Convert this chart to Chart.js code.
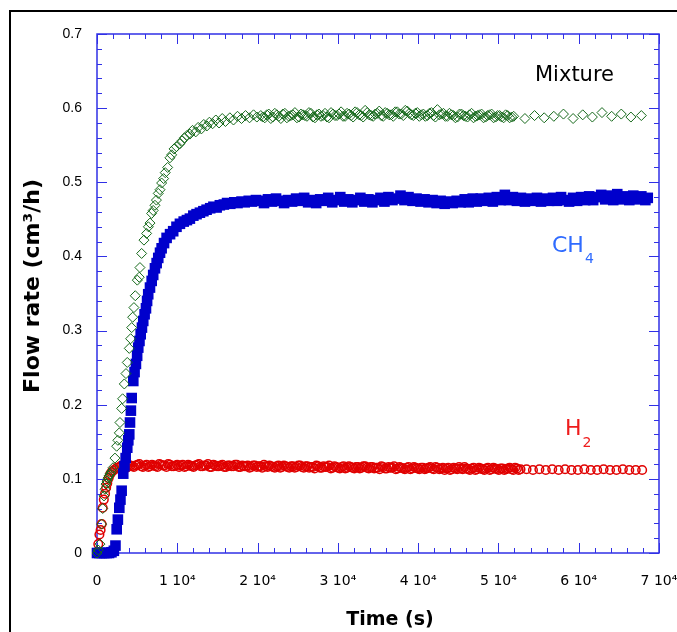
<!DOCTYPE html>
<html>
<head>
<meta charset="utf-8">
<script src="https://cdn.jsdelivr.net/npm/chart.js@4.4.1/dist/chart.umd.min.js"></script>
<style>
  html, body { margin: 0; padding: 0; background: #fff; }
  #wrap { position: relative; width: 677px; height: 632px; }
</style>
</head>
<body>
<div id="wrap"><canvas id="flowChart" width="677" height="632"></canvas></div>
<script>
// Axis ticks
const xTickValues = [0, 10000, 20000, 30000, 40000, 50000, 60000, 70000];
const xTickLabels = ['0', '1 10⁴', '2 10⁴', '3 10⁴', '4 10⁴', '5 10⁴', '6 10⁴', '7 10⁴'];
const yTickValues = [0, 0.1, 0.2, 0.3, 0.4, 0.5, 0.6, 0.7];
const yTickLabels = ['0', '0.1', '0.2', '0.3', '0.4', '0.5', '0.6', '0.7'];

// Mixture (time s, flow cm3/h)
const mixtureTime = [
    0, 150, 370, 580, 710, 870, 1000, 1120, 1250, 1370, 1500, 1650, 1830, 2000, 2240, 2450, 2600, 2780, 2860, 3070,
    3190, 3400, 3610, 3770, 4020, 4190, 4320, 4440, 4600, 4770, 5020, 5260, 5350, 5560, 5850, 6180, 6400, 6600, 6800, 7000,
    7220, 7400, 7630, 7850, 8050, 8300, 8500, 8800, 9080, 9300, 9600, 9900, 10330, 10600, 10900, 11200, 11570, 11900, 12300, 12600,
    13000, 13300, 13690, 14000, 14400, 14800, 15200, 15600, 16000, 16550, 17000, 17500, 18000, 18500, 19000, 19500, 19910,
    20400, 20900, 21400, 21900, 22400, 22900, 23400, 23900, 24400, 24900, 25400, 25900, 26400, 26900, 27400, 27900, 28400, 28900,
    29400, 29900, 30400, 30900, 31400, 31900, 32400, 32900, 33400, 33900, 34400, 34900, 35400, 35900, 36400, 36900, 37400, 37900,
    38400, 38900, 39400, 39900, 40400, 40900, 41400, 41900, 42400, 42900, 43400, 43900, 44400, 44900, 45400, 45900, 46400, 46900,
    47400, 47900, 48400, 48900, 49400, 49900, 50400, 50900, 51400, 51900,
    53300, 54500, 55700, 56900, 58100, 59300, 60500, 61700, 62900, 64100, 65300, 66500, 67800,
    20650, 21150, 21650, 22150, 22650, 23150, 23650, 24150, 24650, 25150, 25650, 26150, 26650, 27150, 27650, 28150, 28650, 29150, 29650, 30150,
    30650, 31150, 31650, 32150, 32650, 33150, 33650, 34150, 34650, 35150, 35650, 36150, 36650, 37150, 37650, 38150, 38650, 39150, 39650, 40150,
    40650, 41150, 41650, 42150, 42650, 43150, 43650, 44150, 44650, 45150, 45650, 46150, 46650, 47150, 47650, 48150, 48650, 49150, 49650, 50150,
    50650, 51150, 51650
];
const mixtureFlow = [
    0, 0.004, 0.012, 0.039, 0.060, 0.077, 0.086, 0.093, 0.097, 0.101, 0.104, 0.107, 0.110, 0.115, 0.128, 0.144, 0.152, 0.162, 0.176, 0.195,
    0.208, 0.228, 0.242, 0.257, 0.276, 0.289, 0.304, 0.318, 0.331, 0.347, 0.368, 0.372, 0.385, 0.404, 0.422, 0.431, 0.440, 0.445, 0.458, 0.462,
    0.469, 0.476, 0.485, 0.490, 0.499, 0.505, 0.513, 0.520, 0.533, 0.537, 0.545, 0.548, 0.552, 0.556, 0.560, 0.563, 0.565, 0.570, 0.568, 0.574,
    0.572, 0.578, 0.576, 0.581, 0.579, 0.584, 0.580, 0.586, 0.582, 0.587, 0.584, 0.589, 0.586, 0.590, 0.587, 0.591, 0.588,
    0.590, 0.587, 0.592, 0.588, 0.591, 0.586, 0.593, 0.589, 0.591, 0.587, 0.592, 0.590, 0.594, 0.588, 0.591, 0.589, 0.593, 0.587,
    0.592, 0.590, 0.595, 0.589, 0.592, 0.588, 0.594, 0.590, 0.597, 0.591, 0.589, 0.593, 0.590, 0.594, 0.591, 0.589, 0.595, 0.592,
    0.597, 0.593, 0.590, 0.594, 0.591, 0.589, 0.593, 0.590, 0.598, 0.592, 0.589, 0.593, 0.590, 0.588, 0.592, 0.589, 0.591, 0.587,
    0.590, 0.592, 0.588, 0.591, 0.587, 0.590, 0.588, 0.591, 0.587, 0.589,
    0.586, 0.590, 0.587, 0.589, 0.592, 0.586, 0.591, 0.588, 0.594, 0.589, 0.592, 0.588, 0.590,
    0.588, 0.591, 0.586, 0.593, 0.589, 0.592, 0.587, 0.590, 0.594, 0.588, 0.591, 0.589, 0.593, 0.587, 0.592, 0.590, 0.588, 0.594, 0.590, 0.592,
    0.589, 0.593, 0.590, 0.595, 0.591, 0.588, 0.594, 0.590, 0.592, 0.596, 0.589, 0.593, 0.591, 0.595, 0.592, 0.590, 0.596, 0.591, 0.593, 0.589,
    0.592, 0.590, 0.594, 0.588, 0.591, 0.593, 0.589, 0.591, 0.587, 0.592, 0.590, 0.588, 0.593, 0.589, 0.591, 0.587, 0.590, 0.592, 0.588, 0.590,
    0.587, 0.590, 0.588
];

// CH4
const ch4Time = [
    0, 300, 600, 900, 1200, 1500, 1800, 2100, 2300, 2450, 2600, 2780, 2920, 3070, 3270, 3420, 3570, 3770, 3900, 4020,
    4110, 4220, 4320, 4520, 4680, 4850, 5000, 5140, 5290, 5440, 5600, 5760, 5930, 6100, 6240, 6380, 6600, 6810, 7000, 7220,
    7430, 7630, 7850, 8050, 8350, 8670, 9100, 9490, 9900, 10330, 10800, 11200, 11570, 12000, 12400, 12820, 13250, 13650, 14100, 14500,
    14900, 15300, 15800, 16200, 16600, 17100, 17500, 18000, 18400, 18900, 19300, 19800,
    20300, 20800, 21300, 21800, 22300, 22800, 23300, 23800, 24300, 24800, 25300, 25800, 26300, 26800, 27300, 27800, 28300, 28800,
    29300, 29800, 30300, 30800, 31300, 31800, 32300, 32800, 33300, 33800, 34300, 34800, 35300, 35800, 36300, 36800, 37300, 37800,
    38300, 38800, 39300, 39800, 40300, 40800, 41300, 41800, 42300, 42800, 43300, 43800, 44300, 44800, 45300, 45800, 46300, 46800,
    47300, 47800, 48300, 48800, 49300, 49800, 50300, 50800, 51300, 51800, 52300, 52800, 53300, 53800, 54300, 54800, 55300, 55800,
    56300, 56800, 57300, 57800, 58300, 58800, 59300, 59800, 60300, 60800, 61300, 61800, 62300, 62800, 63300, 63800, 64300, 64800,
    65300, 65800, 66300, 66800, 67300, 67800, 68300, 68600
];
const ch4Flow = [
    0, 0, 0, 0, 0, 0, 0.001, 0.003, 0.010, 0.032, 0.045, 0.061, 0.072, 0.084, 0.107, 0.117, 0.128, 0.142, 0.152, 0.160,
    0.176, 0.192, 0.209, 0.232, 0.244, 0.255, 0.266, 0.277, 0.286, 0.295, 0.304, 0.313, 0.322, 0.330, 0.340, 0.349, 0.358, 0.367, 0.375, 0.384,
    0.391, 0.398, 0.405, 0.411, 0.418, 0.425, 0.430, 0.434, 0.440, 0.444, 0.447, 0.449, 0.451, 0.455, 0.457, 0.459, 0.461, 0.463, 0.465, 0.467,
    0.466, 0.469, 0.470, 0.472, 0.471, 0.473, 0.472, 0.474, 0.473, 0.475, 0.474, 0.476,
    0.475, 0.472, 0.477, 0.474, 0.478, 0.475, 0.472, 0.476, 0.474, 0.478, 0.475, 0.479, 0.473, 0.476, 0.472, 0.477, 0.475, 0.479,
    0.473, 0.476, 0.480, 0.474, 0.477, 0.473, 0.476, 0.479, 0.474, 0.477, 0.473, 0.476, 0.479, 0.474, 0.480, 0.476, 0.478, 0.482,
    0.476, 0.480, 0.475, 0.478, 0.474, 0.477, 0.473, 0.476, 0.472, 0.475, 0.471, 0.474, 0.472, 0.475, 0.473, 0.477, 0.473, 0.478,
    0.474, 0.478, 0.475, 0.479, 0.474, 0.480, 0.476, 0.483, 0.476, 0.480, 0.475, 0.479, 0.474, 0.478, 0.475, 0.479, 0.474, 0.478,
    0.475, 0.479, 0.475, 0.480, 0.476, 0.474, 0.479, 0.475, 0.480, 0.476, 0.481, 0.476, 0.480, 0.483, 0.477, 0.482, 0.476, 0.484,
    0.477, 0.481, 0.476, 0.482, 0.477, 0.481, 0.476, 0.479
];

// H2
const h2Time = [
    0, 160, 300, 450, 580, 710, 850, 1000, 1140, 1280, 1450, 1620, 1800, 2000, 2240, 2500,
    2800, 3250, 3700, 4150, 4600, 5050, 5500, 5950, 6400, 6850, 7300, 7750, 8200, 8650, 9100, 9550, 10000, 10450, 10900, 11350,
    11800, 12250, 12700, 13150, 13600, 14050, 14500, 14950, 15400, 15850, 16300, 16750, 17200, 17650, 18100, 18550, 19000, 19450,
    19900, 20350, 20800, 21250, 21700, 22150, 22600, 23050, 23500, 23950, 24400, 24850, 25300, 25750, 26200, 26650, 27100, 27550,
    28000, 28450, 28900, 29350, 29800, 30250, 30700, 31150, 31600, 32050, 32500, 32950, 33400, 33850, 34300, 34750, 35200, 35650,
    36100, 36550, 37000, 37450, 37900, 38350, 38800, 39250, 39700, 40150, 40600, 41050, 41500, 41950, 42400, 42850, 43300, 43750,
    44200, 44650, 45100, 45550, 46000, 46450, 46900, 47350, 47800, 48250, 48700, 49150, 49600, 50050, 50500, 50950, 51400, 51850,
    52300, 52750,
    53500, 54300, 55100, 55900, 56700, 57500, 58300, 59100, 59900, 60700, 61500, 62300, 63100, 63900, 64700, 65500, 66300, 67100, 67900,
    3025, 3475, 3925, 4375, 4825, 5275, 5725, 6175, 6625, 7075, 7525, 7975, 8425, 8875, 9325, 9775, 10225, 10675, 11125, 11575,
    12025, 12475, 12925, 13375, 13825, 14275, 14725, 15175, 15625, 16075, 16525, 16975, 17425, 17875, 18325, 18775, 19225, 19675, 20125, 20575,
    21025, 21475, 21925, 22375, 22825, 23275, 23725, 24175, 24625, 25075, 25525, 25975, 26425, 26875, 27325, 27775, 28225, 28675, 29125, 29575,
    30025, 30475, 30925, 31375, 31825, 32275, 32725, 33175, 33625, 34075, 34525, 34975, 35425, 35875, 36325, 36775, 37225, 37675, 38125, 38575,
    39025, 39475, 39925, 40375, 40825, 41275, 41725, 42175, 42625, 43075, 43525, 43975, 44425, 44875, 45325, 45775, 46225, 46675, 47125, 47575,
    48025, 48475, 48925, 49375, 49825, 50275, 50725, 51175, 51625, 52075, 52525
];
const h2Flow = [
    0, 0.012, 0.025, 0.031, 0.039, 0.061, 0.072, 0.080, 0.088, 0.094, 0.101, 0.106, 0.109, 0.111, 0.113, 0.115,
    0.116, 0.117, 0.115, 0.118, 0.116, 0.119, 0.117, 0.118, 0.116, 0.119, 0.117, 0.120, 0.118, 0.116, 0.119, 0.117, 0.119, 0.118, 0.116, 0.119,
    0.117, 0.118, 0.120, 0.117, 0.118, 0.116, 0.119, 0.117, 0.118, 0.116, 0.118, 0.117, 0.119, 0.116, 0.118, 0.117, 0.115, 0.118,
    0.116, 0.117, 0.119, 0.116, 0.117, 0.115, 0.118, 0.116, 0.117, 0.115, 0.117, 0.116, 0.118, 0.115, 0.117, 0.116, 0.114, 0.117,
    0.115, 0.116, 0.118, 0.115, 0.116, 0.114, 0.117, 0.115, 0.116, 0.114, 0.116, 0.115, 0.117, 0.114, 0.116, 0.115, 0.113, 0.116,
    0.114, 0.115, 0.117, 0.114, 0.115, 0.113, 0.116, 0.114, 0.115, 0.113, 0.115, 0.114, 0.116, 0.113, 0.115, 0.114, 0.112, 0.115,
    0.113, 0.114, 0.116, 0.113, 0.114, 0.112, 0.115, 0.113, 0.114, 0.112, 0.115, 0.113, 0.114, 0.112, 0.114, 0.113, 0.115, 0.112,
    0.114, 0.113,
    0.113, 0.112, 0.113, 0.112, 0.113, 0.112, 0.113, 0.112, 0.112, 0.113, 0.112, 0.112, 0.113, 0.112, 0.112, 0.113, 0.112, 0.112, 0.112,
    0.118, 0.116, 0.119, 0.117, 0.118, 0.120, 0.116, 0.119, 0.117, 0.118, 0.116, 0.119, 0.118, 0.120, 0.117, 0.118, 0.116, 0.119, 0.117, 0.118,
    0.116, 0.119, 0.117, 0.118, 0.120, 0.116, 0.118, 0.117, 0.119, 0.116, 0.118, 0.117, 0.119, 0.116, 0.117, 0.118, 0.116, 0.118, 0.117, 0.115,
    0.117, 0.118, 0.116, 0.117, 0.115, 0.118, 0.116, 0.117, 0.115, 0.118, 0.116, 0.117, 0.115, 0.116, 0.118, 0.115, 0.117, 0.116, 0.114, 0.117,
    0.115, 0.116, 0.114, 0.117, 0.115, 0.116, 0.114, 0.117, 0.115, 0.116, 0.114, 0.115, 0.117, 0.114, 0.116, 0.115, 0.113, 0.116, 0.114, 0.115,
    0.113, 0.116, 0.114, 0.115, 0.113, 0.115, 0.114, 0.116, 0.113, 0.115, 0.114, 0.112, 0.115, 0.113, 0.114, 0.116, 0.113, 0.114, 0.112, 0.115,
    0.113, 0.114, 0.112, 0.115, 0.113, 0.114, 0.112, 0.114, 0.113, 0.115, 0.112
];

const FONT = '"Comic Sans MS", "DejaVu Sans", sans-serif';
const AXIS_BLUE = '#3030e6';

const toPoints = (xs, ys) => xs.map((t, i) => ({ x: t, y: ys[i] }));

// Frame, inward ticks and text labels
const decorPlugin = {
    id: 'decor',
    beforeDraw(chart) {
        const ctx = chart.ctx;
        ctx.save();
        ctx.fillStyle = '#fff';
        ctx.fillRect(0, 0, chart.width, chart.height);
        ctx.fillStyle = '#000';
        ctx.fillRect(9, 10, chart.width, 2);
        ctx.fillRect(9, 10, 2, chart.height);
        ctx.restore();
    },
    beforeDatasetsDraw(chart) {
        const { ctx, chartArea: a, scales: { x, y } } = chart;
        ctx.save();
        ctx.strokeStyle = AXIS_BLUE;
        ctx.lineWidth = 1.5;
        ctx.strokeRect(a.left, a.top, a.right - a.left, a.bottom - a.top);
        ctx.lineWidth = 1;
        ctx.beginPath();
        for (let i = 0; i <= 35; i++) {
            const px = Math.round(x.getPixelForValue(i * 2000)) + 0.5;
            const len = i % 5 === 0 ? 10 : 5;
            ctx.moveTo(px, a.bottom); ctx.lineTo(px, a.bottom - len);
            ctx.moveTo(px, a.top); ctx.lineTo(px, a.top + len);
        }
        for (let i = 0; i <= 35; i++) {
            const py = Math.round(y.getPixelForValue(i * 0.02)) + 0.5;
            const len = i % 5 === 0 ? 10 : 5;
            ctx.moveTo(a.left, py); ctx.lineTo(a.left + len, py);
            ctx.moveTo(a.right, py); ctx.lineTo(a.right - len, py);
        }
        ctx.stroke();
        ctx.restore();
    },
    afterDraw(chart) {
        const ctx = chart.ctx;
        ctx.save();

        // axis titles
        ctx.fillStyle = '#000';
        ctx.font = 'bold 19px ' + FONT;
        ctx.textAlign = 'center';
        ctx.textBaseline = 'middle';
        ctx.fillText('Time (s)', 390, 620);
        ctx.save();
        ctx.translate(33, 286);
        ctx.rotate(-Math.PI / 2);
        ctx.font = 'bold 22px ' + FONT;
        ctx.fillText('Flow rate (cm³/h)', 0, 0);
        ctx.restore();

        // series labels
        ctx.textAlign = 'left';
        ctx.textBaseline = 'alphabetic';
        ctx.font = '21px ' + FONT;
        ctx.fillText('Mixture', 535, 81);

        ctx.fillStyle = '#2f6bff';
        ctx.font = '22px ' + FONT;
        ctx.fillText('CH', 552, 252);
        let w = ctx.measureText('CH').width;
        ctx.font = '14px ' + FONT;
        ctx.fillText('4', 552 + w + 1, 263);

        ctx.fillStyle = '#ee1c1c';
        ctx.font = '22px ' + FONT;
        ctx.fillText('H', 565, 435);
        w = ctx.measureText('H').width;
        ctx.font = '14px ' + FONT;
        ctx.fillText('2', 565 + w + 1, 447);
        ctx.restore();
    }
};

new Chart(document.getElementById('flowChart'), {
    type: 'scatter',
    data: {
        datasets: [
            {
                label: 'Mixture',
                data: toPoints(mixtureTime, mixtureFlow),
                pointStyle: 'rectRot',
                pointRadius: 5,
                borderColor: '#15691a',
                backgroundColor: 'rgba(0,0,0,0)',
                borderWidth: 1,
                clip: false
            },
            {
                label: 'CH4',
                data: toPoints(ch4Time, ch4Flow),
                pointStyle: 'rect',
                pointRadius: 7.5,
                borderColor: '#0000cc',
                backgroundColor: '#0000cc',
                borderWidth: 0,
                clip: false
            },
            {
                label: 'H2',
                data: toPoints(h2Time, h2Flow),
                pointStyle: 'circle',
                pointRadius: 4.3,
                borderColor: '#e00000',
                backgroundColor: 'rgba(0,0,0,0)',
                borderWidth: 1.5,
                clip: false
            }
        ]
    },
    options: {
        responsive: false,
        animation: false,
        devicePixelRatio: 1,
        layout: { padding: { left: 0, right: 18, top: 34, bottom: 0 } },
        scales: {
            x: {
                type: 'linear',
                min: 0,
                max: 70000,
                grid: { display: false, drawTicks: false },
                border: { display: false },
                afterBuildTicks: s => { s.ticks = xTickValues.map(v => ({ value: v })); },
                afterFit: s => { s.height = 79; s.paddingLeft = 0; s.paddingRight = 0; },
                ticks: {
                    autoSkip: false,
                    maxRotation: 0,
                    padding: 20,
                    color: '#000',
                    font: { family: FONT, size: 14 },
                    callback: (v, i) => xTickLabels[i]
                }
            },
            y: {
                min: 0,
                max: 0.7,
                grid: { display: false, drawTicks: false },
                border: { display: false },
                afterBuildTicks: s => { s.ticks = yTickValues.map(v => ({ value: v })); },
                afterFit: s => { s.width = 97; s.paddingTop = 0; s.paddingBottom = 0; },
                ticks: {
                    autoSkip: false,
                    padding: 15,
                    color: '#000',
                    font: { family: '"Liberation Sans", Arial, sans-serif', size: 14 },
                    callback: (v, i) => yTickLabels[i]
                }
            }
        },
        plugins: {
            legend: { display: false },
            tooltip: { enabled: false }
        }
    },
    plugins: [decorPlugin]
});
</script>
</body>
</html>
